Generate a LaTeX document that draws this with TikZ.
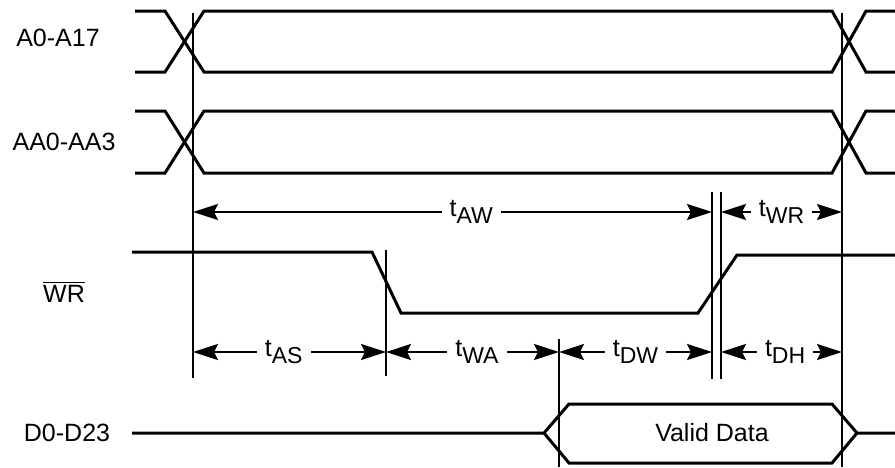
\documentclass[tikz,border=0pt]{standalone}
\usepackage{fontspec}
\setmainfont{Liberation Sans}
\usetikzlibrary{arrows.meta}

\newcommand{\tsub}[1]{t\raisebox{-3.5pt}{\fontsize{11.5}{11.5}\selectfont #1}}

\begin{document}
\begin{tikzpicture}[x=0.5pt,y=-0.5pt,
  >={Stealth[length=12.5pt,width=8pt,inset=2pt]},
  sig/.style={line width=1.5pt,line join=miter},
  tick/.style={line width=1pt},
  dim/.style={<->,line width=1pt},
  lbl/.style={font=\fontsize{12.5}{12.5}\selectfont},
  tlab/.style={lbl,fill=white,inner xsep=4pt,inner ysep=1pt}]
 \useasboundingbox (0,0) rectangle (895,467);
 \xdef\xs{193}
 \xdef\xe{842}
  % address buses
  \begin{scope}
    \draw[sig] (135,11) -- (165,11) -- (204,72) -- (832,72) -- (866,11) -- (895,11);
    \draw[sig] (135,72) -- (165,72) -- (204,11) -- (832,11) -- (866,72) -- (895,72);
    \node[lbl] (addr) at (58,38) {A0-A17};
  \end{scope}
  \begin{scope}
    \draw[sig] (135,111) -- (165,111) -- (204,173) -- (832,173) -- (866,111) -- (895,111);
    \draw[sig] (135,173) -- (165,173) -- (204,111) -- (832,111) -- (866,173) -- (895,173);
    \node[lbl] (aaddr) at (64,142) {AA0-AA3};
  \end{scope}
  % write strobe
  \draw[sig] (132,252) -- (372,252) -- (401,313) -- (698,313) -- (737,255) -- (895,255);
  \node[lbl] (wr) at (64,292) {$\overline{\mbox{WR}}$};
  % data bus
  \draw[sig] (132,433) -- (544,433) -- (569,404) -- (832,404) -- (857,433) -- (895,433);
  \draw[sig] (544,433) -- (569,463) -- (832,463) -- (857,433);
  \node[lbl] (data) at (67,433) {D0-D23};
  \node[lbl] (valid) at (712,433) {Valid Data};
  % timing marks
  \draw[tick] (\xs,13) -- (\xs,378);
  \draw[tick] (\xe,13) -- (\xe,467);
  \draw[tick] (386,250) -- (386,376);
  \draw[tick] (559,339) -- (559,467);
  \draw[tick] (712,192) -- (712,379);
  \draw[tick] (721,192) -- (721,379);
  \coordinate (aw0) at (\xs,212);
  \coordinate (aw1) at (712,212);
  \coordinate (wr0) at (721,212);
  \coordinate (wr1) at (\xe,212);
  \coordinate (as0) at (\xs,352);
  \coordinate (as1) at (386,352);
  \coordinate (wa1) at (559,352);
  \coordinate (dw1) at (712,352);
  \coordinate (dh0) at (721,352);
  \coordinate (dh1) at (\xe,352);
  \draw[dim] (aw0) -- node[tlab,pos=.536] (taw) {\tsub{AW}} (aw1);
  \draw[dim] (wr0) -- node[tlab,pos=.5] (twr) {\tsub{WR}} (wr1);
  \draw[dim] (as0) -- node[tlab,pos=.47] (tas) {\tsub{AS}} (as1);
  \draw[dim] (as1) -- node[tlab,pos=.526] (twa) {\tsub{WA}} (wa1);
  \draw[dim] (wa1) -- node[tlab,pos=.5] (tdw) {\tsub{DW}} (dw1);
  \draw[dim] (dh0) -- node[tlab,pos=.53] (tdh) {\tsub{DH}} (dh1);
\end{tikzpicture}
\end{document}
